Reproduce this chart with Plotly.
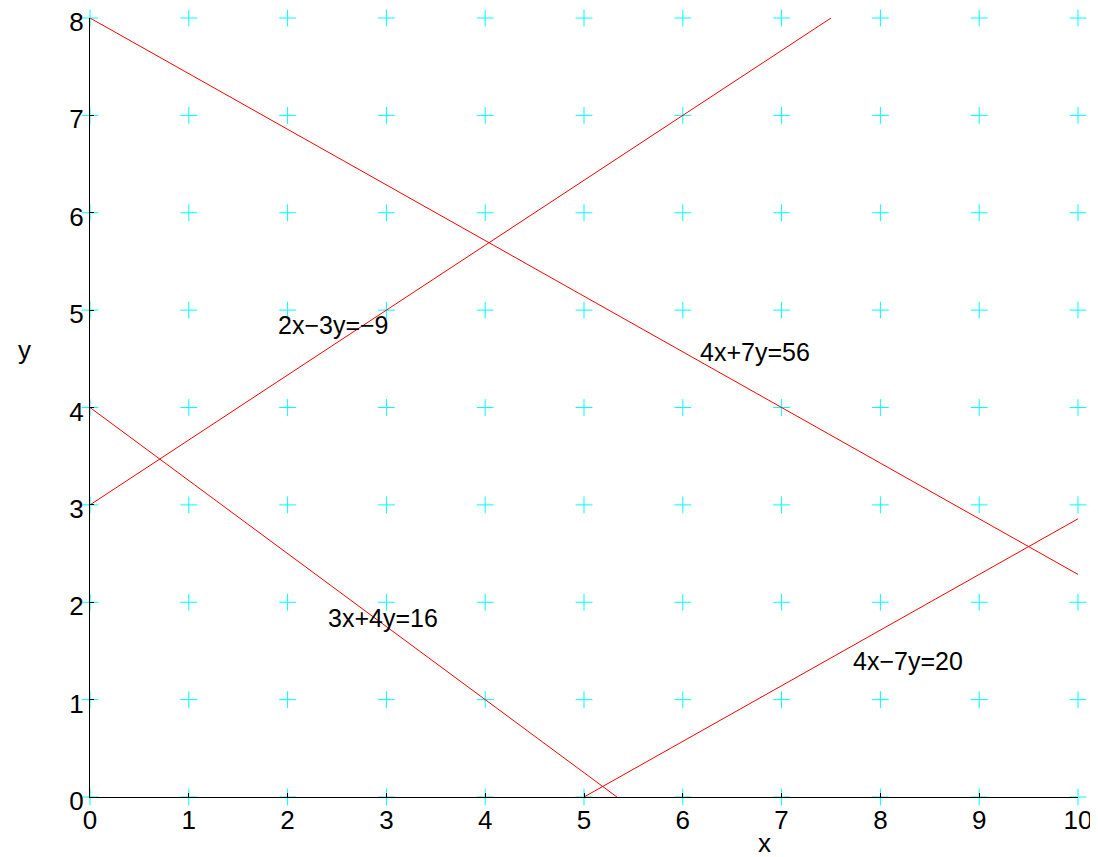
import plotly.graph_objects as go

# --- Data ---
grid_x = list(range(0, 11))
grid_y = list(range(0, 9))

# line endpoints (x0, x1), (y0, y1)
lines = {
    "4x+7y=56": ([0, 10], [8, 2.2857]),
    "2x−3y=−9": ([0, 7.5], [3, 8]),
    "3x+4y=16": ([0, 5.3333], [4, 0]),
    "4x−7y=20": ([5, 10], [0, 2.8571]),
}

label_text = ["2x−3y=−9", "4x+7y=56", "3x+4y=16", "4x−7y=20"]
label_x = [2.46, 6.73, 2.97, 8.28]
label_y = [4.85, 4.57, 1.84, 1.40]

FONT = "Liberation Sans, Arial, Helvetica, sans-serif"
FS = 26

fig = go.Figure()

# cyan + markers at grid points
gx = [x for x in grid_x for _ in grid_y]
gy = [y for _ in grid_x for y in grid_y]
fig.add_trace(go.Scatter(
    x=gx, y=gy, mode="markers",
    marker=dict(symbol="cross-thin", size=12, line=dict(color="cyan", width=1)),
    showlegend=False, hoverinfo="skip", cliponaxis=False,
))

for name, (xs, ys) in lines.items():
    fig.add_trace(go.Scatter(
        x=xs, y=ys, mode="lines",
        line=dict(color="red", width=1),
        showlegend=False, name=name,
    ))

for t, x, y in zip(label_text, label_x, label_y):
    fig.add_annotation(x=x, y=y, text=t, showarrow=False,
                       xanchor="center", yanchor="middle",
                       font=dict(size=FS - 1, color="black", family=FONT))

# axis titles
fig.add_annotation(x=0.683, y=-0.059, xref="paper", yref="paper", text="x",
                   xanchor="center", yanchor="middle",
                   showarrow=False, font=dict(size=FS, color="black", family=FONT))
fig.add_annotation(x=-0.066, y=0.574, xref="paper", yref="paper", text="y",
                   xanchor="center", yanchor="middle",
                   showarrow=False, font=dict(size=FS, color="black", family=FONT))

axis_common = dict(
    showgrid=False, zeroline=False, showline=True, linecolor="black", linewidth=1,
    ticks="inside", ticklen=4, tickcolor="black", tickwidth=1,
    tickfont=dict(size=FS, color="black", family=FONT), dtick=1,
    ticklabeloverflow="allow", automargin=False,
)

fig.update_layout(
    width=1098, height=857,
    margin=dict(l=82, r=28, t=10, b=68, autoexpand=False),
    plot_bgcolor="white", paper_bgcolor="white",
    xaxis=dict(range=[0, 10], tick0=0, **axis_common),
    yaxis=dict(range=[0, 8], tick0=0, ticklabelshift=4, **axis_common),
    font=dict(family=FONT),
)

fig.write_html("out.html")
